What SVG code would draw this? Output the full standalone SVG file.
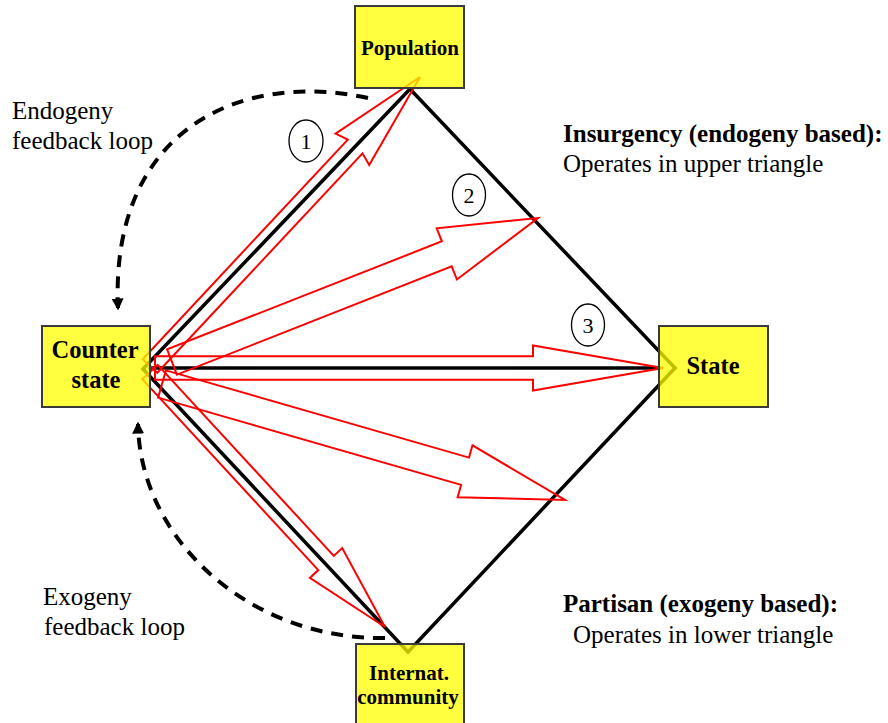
<svg xmlns="http://www.w3.org/2000/svg" width="888" height="723" viewBox="0 0 888 723">
<style>
.box{fill:#FFFF00;fill-opacity:0.75;stroke:#3a3a3a;stroke-width:2}
.nl{font-weight:bold;fill:#000;text-anchor:middle}
.lbl{font-size:25px;fill:#000}
.blk{stroke:#000;stroke-width:3.5;fill:none;stroke-linecap:round}
.red{stroke:#FF0000;stroke-width:2;fill:none;stroke-linejoin:miter}
.dash{stroke:#000;stroke-width:4;fill:none;stroke-dasharray:12 9}
.num{fill:#fff;stroke:#000;stroke-width:1.3}
.nt{font-size:22px;fill:#000;text-anchor:middle}
</style>
<defs>
<marker id="ah" markerUnits="userSpaceOnUse" markerWidth="12" markerHeight="12" viewBox="0 0 10 10" refX="8" refY="5" orient="auto">
<path d="M0,0 L10,5 L0,10 z" fill="#000"/>
</marker>
</defs>
<rect width="888" height="723" fill="#fff"/>
<g id="connectors">
<g id="diamond">
<line class="blk" x1="143" y1="369" x2="410" y2="89"/>
<line class="blk" x1="410" y1="89" x2="675" y2="368"/>
<line class="blk" x1="675" y1="368" x2="408" y2="652"/>
<line class="blk" x1="408" y1="652" x2="143" y2="369"/>
<line class="blk" x1="150" y1="368" x2="660" y2="368"/>
</g>
<g id="red-arrows">
<polygon class="red" points="157.3,372.8 362.5,153.3 369.2,165.0 420,77 335.6,133.6 347.8,139.6 142.7,359.2"/>
<polygon class="red" points="176.9,374.6 451.7,266.4 456.9,279.5 538,218 436.7,228.3 441.9,241.3 167.1,349.4"/>
<polygon class="red" points="155,356.3 533,356.3 533,345.5 663,368 533,390.5 533,379.7 155,379.7"/>
<polygon class="red" points="158.1,397.6 461.1,484.9 457.6,497.2 565,500 472.5,445.3 469.0,457.6 165.9,370.4"/>
<polygon class="red" points="142.3,379.1 318.3,570.1 309.9,577.9 385,627 342.2,548.1 333.8,555.9 157.7,364.9"/>
</g>
<path id="endogeny-loop" class="dash" d="M368,98 C240,70 110,130 118,308" marker-end="url(#ah)"/>
<path id="exogeny-loop" class="dash" d="M385,638 C250,640 140,540 138,424" marker-end="url(#ah)"/>
</g>
<g id="n-population">
<rect class="box" x="355" y="6" width="109" height="82"/>
<text class="nl" x="410" y="55" font-size="21" font-family="'Liberation Serif', 'DejaVu Serif', serif">Population</text>
</g>
<g id="n-counter-state">
<rect class="box" x="42" y="326" width="108" height="81"/>
<text class="nl" x="95" y="358" font-size="24.5" font-family="'Liberation Serif', 'DejaVu Serif', serif">Counter</text>
<text class="nl" x="96" y="388" font-size="24.5" font-family="'Liberation Serif', 'DejaVu Serif', serif">state</text>
</g>
<g id="n-state">
<rect class="box" x="659" y="326" width="109" height="81"/>
<text class="nl" x="713" y="374" font-size="24.5" font-family="'Liberation Serif', 'DejaVu Serif', serif">State</text>
</g>
<g id="n-internat">
<rect class="box" x="356" y="644" width="108" height="90"/>
<text class="nl" x="409" y="680" font-size="21" font-family="'Liberation Serif', 'DejaVu Serif', serif">Internat.</text>
<text class="nl" x="408" y="704" font-size="21" font-family="'Liberation Serif', 'DejaVu Serif', serif">community</text>
</g>
<g id="numbers" font-family="'Liberation Serif', 'DejaVu Serif', serif">
<ellipse class="num" cx="306" cy="141" rx="17" ry="21"/>
<text class="nt" x="306" y="149">1</text>
<ellipse class="num" cx="469" cy="195" rx="16.5" ry="21"/>
<text class="nt" x="469" y="203">2</text>
<ellipse class="num" cx="588" cy="325" rx="16.5" ry="21"/>
<text class="nt" x="588" y="333">3</text>
</g>
<g id="labels" font-family="'Liberation Serif', 'DejaVu Serif', serif">
<text class="lbl" x="12" y="119">Endogeny</text>
<text class="lbl" x="12" y="149">feedback loop</text>
<text class="lbl" x="43" y="605">Exogeny</text>
<text class="lbl" x="44" y="635">feedback loop</text>
<text class="lbl" x="563" y="142" font-weight="bold">Insurgency (endogeny based):</text>
<text class="lbl" x="563" y="172">Operates in upper triangle</text>
<text class="lbl" x="563" y="612" font-weight="bold">Partisan (exogeny based):</text>
<text class="lbl" x="573" y="643">Operates in lower triangle</text>
</g>
</svg>
